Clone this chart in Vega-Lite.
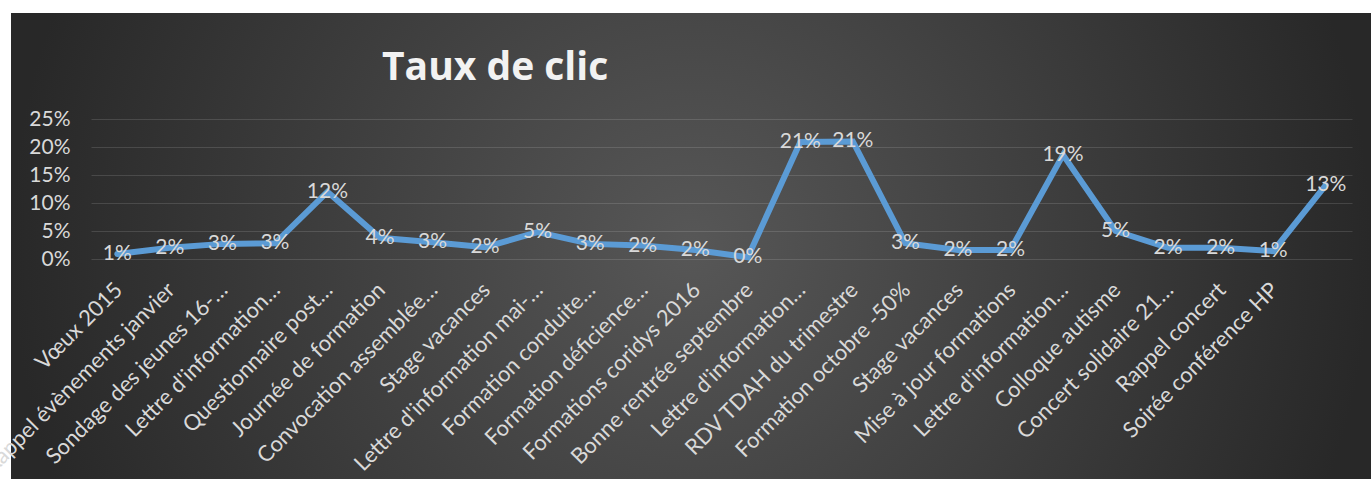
{
  "$schema": "https://vega.github.io/schema/vega-lite/v6.json",
  "width": 1360,
  "height": 466,
  "autosize": {"type": "none"},
  "padding": {"left": 11, "top": 13, "right": 0, "bottom": 0},
  "background": "#ffffff",
  "title": {
    "text": "Taux de clic",
    "anchor": "start",
    "frame": "group",
    "orient": "top",
    "offset": 0,
    "dx": 371,
    "dy": 106,
    "baseline": "alphabetic",
    "font": "Open Sans",
    "fontSize": 39,
    "fontWeight": "bold",
    "color": "#f2f2f2"
  },
  "data": {
    "values": [
      {"email": "Vœux 2015", "taux": 0.009},
      {"email": "Rappel évènements janvier", "taux": 0.020},
      {"email": "Sondage des jeunes 16-…", "taux": 0.027},
      {"email": "Lettre d'information…", "taux": 0.028},
      {"email": "Questionnaire post…", "taux": 0.120},
      {"email": "Journée de formation", "taux": 0.038},
      {"email": "Convocation assemblée…", "taux": 0.030},
      {"email": "Stage vacances", "taux": 0.021},
      {"email": "Lettre d'information mai-…", "taux": 0.048},
      {"email": "Formation conduite…", "taux": 0.027},
      {"email": "Formation déficience…", "taux": 0.024},
      {"email": "Formations coridys 2016", "taux": 0.016},
      {"email": "Bonne rentrée septembre", "taux": 0.003},
      {"email": "Lettre d'information…\u200b", "taux": 0.209},
      {"email": "RDV TDAH du trimestre", "taux": 0.210},
      {"email": "Formation octobre -50%", "taux": 0.028},
      {"email": "Stage vacances\u200b", "taux": 0.016},
      {"email": "Mise à jour formations", "taux": 0.016},
      {"email": "Lettre d'information…\u200b\u200b", "taux": 0.186},
      {"email": "Colloque autisme", "taux": 0.050},
      {"email": "Concert solidaire 21…", "taux": 0.020},
      {"email": "Rappel concert", "taux": 0.020},
      {"email": "Soirée conférence HP", "taux": 0.014},
      {"email": "", "taux": 0.132}
    ]
  },
  "encoding": {
    "x": {
      "field": "email",
      "type": "ordinal",
      "sort": null,
      "scale": {"type": "point", "range": [80, 1341], "padding": 0.5},
      "axis": {
        "title": null,
        "offset": -220,
        "grid": false,
        "domain": false,
        "ticks": false,
        "labelAngle": -45,
        "labelAlign": "right",
        "labelBaseline": "middle",
        "labelPadding": 27,
        "labelOffset": 1,
        "labelOverlap": false,
        "labelLimit": 0,
        "labelFont": "Lato",
        "labelFontSize": 22,
        "labelColor": "#d9d9d9"
      }
    },
    "y": {
      "field": "taux",
      "type": "quantitative",
      "scale": {"domain": [0, 0.25], "range": [246, 106], "nice": false},
      "axis": {
        "title": null,
        "offset": -80,
        "values": [0, 0.05, 0.1, 0.15, 0.2, 0.25],
        "format": ".0%",
        "domain": false,
        "ticks": false,
        "grid": true,
        "gridColor": "#ffffff",
        "gridOpacity": 0.13,
        "gridWidth": 1.2,
        "labelPadding": 21,
        "labelFont": "Lato",
        "labelFontSize": 21,
        "labelColor": "#d9d9d9"
      }
    }
  },
  "layer": [
    {
      "mark": {"type": "line", "color": "#5b9bd5", "strokeWidth": 6, "strokeCap": "round", "strokeJoin": "miter"}
    },
    {
      "mark": {"type": "text", "font": "Lato", "fontSize": 21, "color": "#d9d9d9", "align": "center", "baseline": "middle"},
      "encoding": {"text": {"field": "taux", "type": "quantitative", "format": ".0%"}}
    }
  ],
  "config": {
    "view": {
      "stroke": null,
      "fill": {
        "gradient": "radial",
        "x1": 0.5, "y1": 0.5, "r1": 0,
        "x2": 0.5, "y2": 0.5, "r2": 0.5,
        "stops": [
          {"offset": 0, "color": "#575757"},
          {"offset": 1, "color": "#282828"}
        ]
      }
    }
  }
}
